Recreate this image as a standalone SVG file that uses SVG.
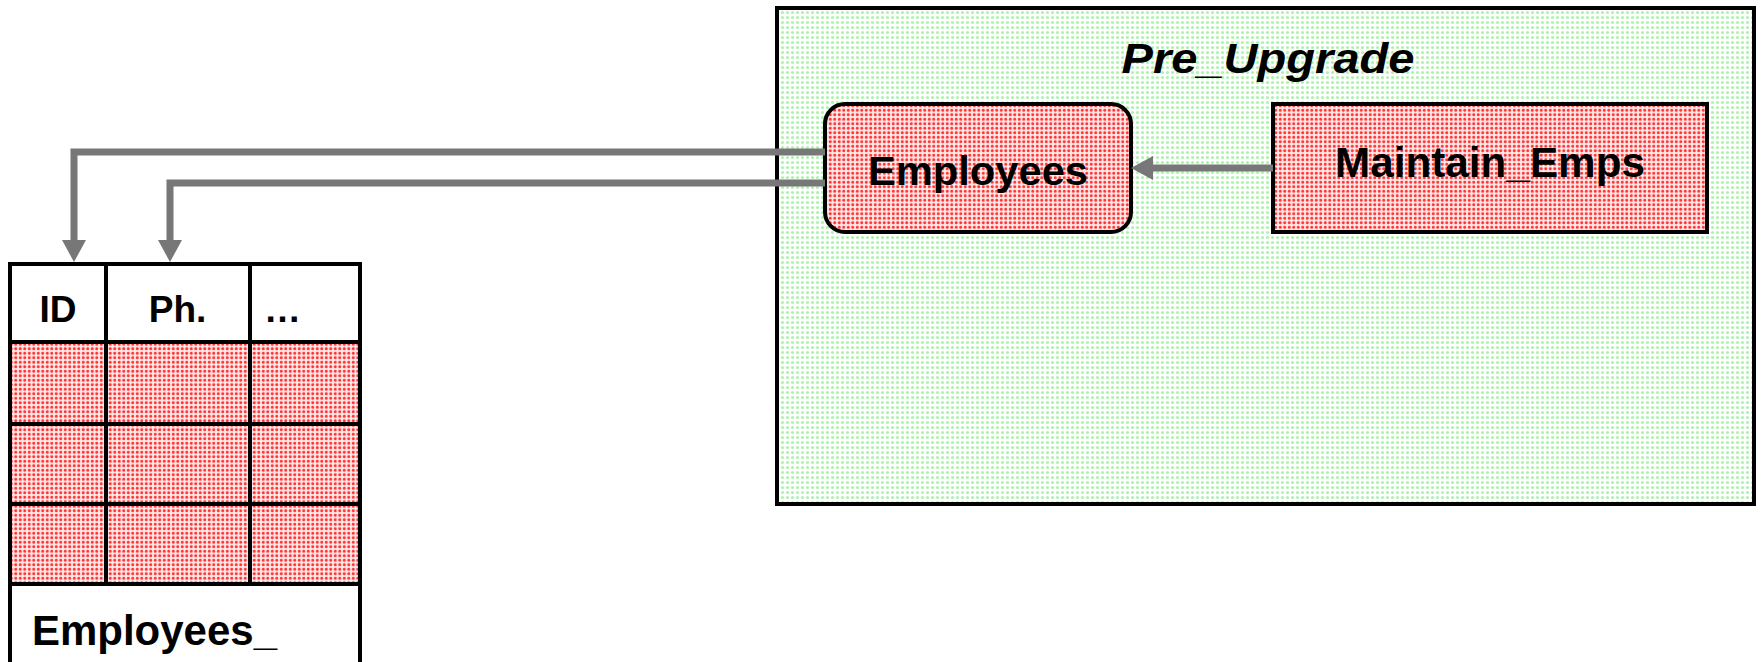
<svg xmlns="http://www.w3.org/2000/svg" width="1762" height="662" viewBox="0 0 1762 662">
  <defs>
    <pattern id="redDots" width="4.5" height="4.5" patternUnits="userSpaceOnUse">
      <rect width="4.5" height="4.5" fill="#ffe8e8"/>
      <circle cx="2.25" cy="2.25" r="1.5" fill="#ff3030"/>
    </pattern>
    <pattern id="greenDots" width="5" height="5" patternUnits="userSpaceOnUse">
      <rect width="5" height="5" fill="#ffffff"/>
      <circle cx="2.5" cy="2.5" r="1.6" fill="#aef3ae"/>
    </pattern>
    <marker id="arrow" markerUnits="userSpaceOnUse" markerWidth="22" markerHeight="24" refX="14" refY="12" orient="auto">
      <path d="M0,0 L22,12 L0,24 z" fill="#777777"/>
    </marker>
  </defs>
  <style>
    .lbl { font-family: "Liberation Sans", Arial, sans-serif; font-weight: bold; fill: #000; }
    .title { font-family: "Liberation Sans", Arial, sans-serif; font-weight: bold; font-style: italic; fill: #000; }
    .conn { fill: none; stroke: #777777; stroke-width: 7; }
    .border { stroke: #000; stroke-width: 4; }
  </style>
  <rect width="1762" height="662" fill="#ffffff"/>

  <g id="pre_upgrade">
    <rect x="777" y="8" width="977" height="496" fill="url(#greenDots)" class="border"/>
    <text class="title" x="1268" y="73" font-size="43" text-anchor="middle" textLength="293" lengthAdjust="spacingAndGlyphs">Pre_Upgrade</text>
  </g>

  <g id="employees_node">
    <rect x="825" y="104" width="306" height="128" rx="20" ry="20" fill="url(#redDots)" stroke="#000" stroke-width="4"/>
    <text class="lbl" x="978" y="185" font-size="41" text-anchor="middle" textLength="220" lengthAdjust="spacingAndGlyphs">Employees</text>
  </g>

  <g id="maintain_emps">
    <rect x="1273" y="104" width="434" height="128" fill="url(#redDots)" stroke="#000" stroke-width="4"/>
    <text class="lbl" x="1490" y="177" font-size="42" text-anchor="middle" textLength="310" lengthAdjust="spacingAndGlyphs">Maintain_Emps</text>
  </g>

  <g id="employees_table">
    <rect x="10" y="264" width="350" height="78" fill="#ffffff"/>
    <rect x="10" y="342" width="350" height="242" fill="url(#redDots)"/>
    <line class="border" x1="10" y1="262" x2="10" y2="670"/>
    <line class="border" x1="360" y1="262" x2="360" y2="670"/>
    <line class="border" x1="8" y1="264" x2="362" y2="264"/>
    <line class="border" x1="8" y1="342" x2="362" y2="342"/>
    <line class="border" x1="8" y1="424" x2="362" y2="424"/>
    <line class="border" x1="8" y1="504" x2="362" y2="504"/>
    <line class="border" x1="8" y1="584" x2="362" y2="584"/>
    <line class="border" x1="106" y1="264" x2="106" y2="584"/>
    <line class="border" x1="250" y1="264" x2="250" y2="584"/>
    <text class="lbl" x="58" y="322" font-size="37" text-anchor="middle">ID</text>
    <text class="lbl" x="177.5" y="322" font-size="37" text-anchor="middle">Ph.</text>
    <text class="lbl" x="264" y="322" font-size="37">…</text>
    <text class="lbl" x="32" y="645" font-size="42" textLength="245" lengthAdjust="spacingAndGlyphs">Employees_</text>
  </g>

  <g id="connectors">
    <path class="conn" d="M825,152 L74,152 L74,254" marker-end="url(#arrow)"/>
    <path class="conn" d="M825,183 L170,183 L170,254" marker-end="url(#arrow)"/>
    <path class="conn" d="M1273,168 L1139,168" marker-end="url(#arrow)"/>
  </g>
</svg>
